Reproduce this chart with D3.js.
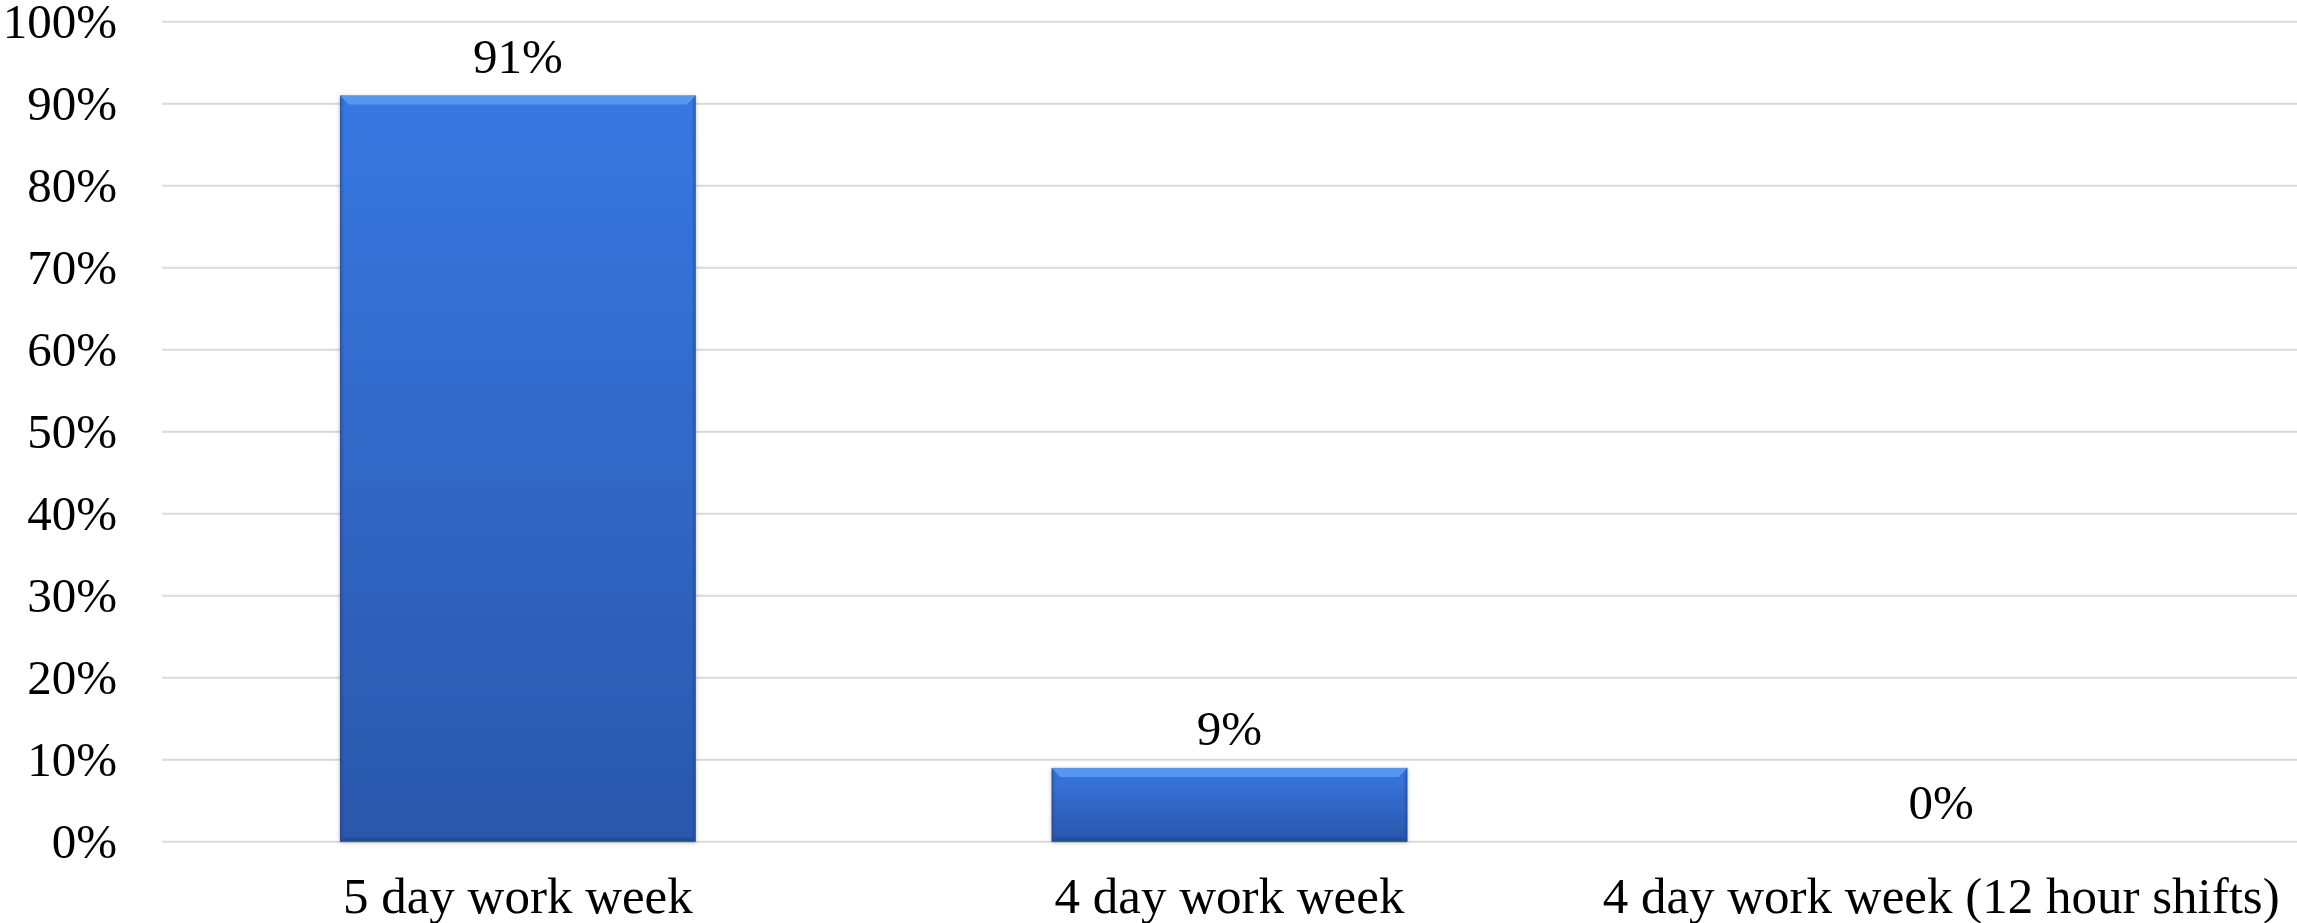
<!DOCTYPE html>
<html>
<head>
<meta charset="utf-8">
<script src="https://cdn.jsdelivr.net/npm/d3@7"></script>
<style>
  html, body { margin: 0; padding: 0; background: #ffffff; }
  svg { display: block; }
  text { font-family: "Liberation Serif", "DejaVu Serif", serif; fill: #000; }
</style>
</head>
<body>
<svg id="chart" width="2297" height="923"></svg>
<script>
// Preferred work schedule — share of responses
const categories = ["5 day work week", "4 day work week", "4 day work week (12 hour shifts)"];
const shares = [0.91, 0.09, 0.00];
const yTicks = [0, 0.1, 0.2, 0.3, 0.4, 0.5, 0.6, 0.7, 0.8, 0.9, 1.0];

const W = 2297, H = 923;
const margin = { left: 162, right: 0, top: 21.7, bottom: 923 - 841.7 };

const svg = d3.select("#chart");

const x = d3.scaleBand()
  .domain(categories)
  .range([margin.left, W - margin.right])
  .paddingInner(0.5)
  .paddingOuter(0.25);

const y = d3.scaleLinear()
  .domain([0, 1])
  .range([H - margin.bottom, margin.top]);

const pct = d3.format(".0%");

// gradients for the bevelled bars
const defs = svg.append("defs");
const body = defs.append("linearGradient").attr("id", "barBody")
  .attr("x1", 0).attr("y1", 0).attr("x2", 0).attr("y2", 1);
body.append("stop").attr("offset", "0%").attr("stop-color", "#3878e2");
body.append("stop").attr("offset", "100%").attr("stop-color", "#2a57ab");

const side = defs.append("linearGradient").attr("id", "barSide")
  .attr("x1", 0).attr("y1", 0).attr("x2", 1).attr("y2", 0);
side.append("stop").attr("offset", "0%").attr("stop-color", "#1d3f86").attr("stop-opacity", 0.55);
side.append("stop").attr("offset", "1.2%").attr("stop-color", "#1d3f86").attr("stop-opacity", 0);
side.append("stop").attr("offset", "98.8%").attr("stop-color", "#1d3f86").attr("stop-opacity", 0);
side.append("stop").attr("offset", "100%").attr("stop-color", "#1d3f86").attr("stop-opacity", 0.55);

const shadow = defs.append("filter").attr("id", "barShadow")
  .attr("x", "-5%").attr("y", "-5%").attr("width", "110%").attr("height", "110%");
shadow.append("feDropShadow").attr("dx", 0).attr("dy", 1).attr("stdDeviation", 2)
  .attr("flood-color", "#000").attr("flood-opacity", 0.25);

// horizontal gridlines
svg.append("g")
  .selectAll("line")
  .data(yTicks)
  .join("line")
  .attr("x1", margin.left)
  .attr("x2", W)
  .attr("y1", d => y(d))
  .attr("y2", d => y(d))
  .attr("stroke", "#d9d9d9")
  .attr("stroke-width", 2);

// y axis labels
const yAxis = d3.axisLeft(y).tickValues(yTicks).tickFormat(pct).tickSize(0).tickPadding(0);
const yg = svg.append("g")
  .attr("transform", `translate(117,0)`)
  .call(yAxis);
yg.select(".domain").remove();
yg.selectAll("text")
  .attr("font-family", "Liberation Serif, DejaVu Serif, serif")
  .attr("font-size", 49)
  .attr("fill", "#000")
  .attr("dy", "0.32em");

// bars
const bars = svg.append("g")
  .selectAll("g")
  .data(categories.map((c, i) => ({ c, v: shares[i] })))
  .join("g")
  .filter(d => d.v > 0);

bars.append("rect")
  .attr("x", d => x(d.c))
  .attr("y", d => y(d.v))
  .attr("width", x.bandwidth())
  .attr("height", d => y(0) - y(d.v))
  .attr("fill", "url(#barBody)")
  .attr("filter", "url(#barShadow)");

bars.append("rect")
  .attr("x", d => x(d.c))
  .attr("y", d => y(d.v))
  .attr("width", x.bandwidth())
  .attr("height", d => y(0) - y(d.v))
  .attr("fill", "url(#barSide)");

// bevelled top edge
const bev = 9;
bars.append("path")
  .attr("d", d => {
    const x0 = x(d.c), x1 = x0 + x.bandwidth(), t = y(d.v);
    return `M${x0},${t}L${x1},${t}L${x1 - bev},${t + bev}L${x0 + bev},${t + bev}Z`;
  })
  .attr("fill", "#5b9af0")
  .attr("opacity", 0.9);

// darker bottom edge
bars.append("path")
  .attr("d", d => {
    const x0 = x(d.c), x1 = x0 + x.bandwidth(), b = y(0);
    return `M${x0},${b}L${x1},${b}L${x1 - 4},${b - 4}L${x0 + 4},${b - 4}Z`;
  })
  .attr("fill", "#1f4590")
  .attr("opacity", 0.6);

// value labels
svg.append("g")
  .selectAll("text")
  .data(categories.map((c, i) => ({ c, v: shares[i] })))
  .join("text")
  .attr("x", d => x(d.c) + x.bandwidth() / 2)
  .attr("y", d => y(d.v) - 23)
  .attr("text-anchor", "middle")
  .attr("font-size", 49)
  .text(d => pct(d.v));

// category labels
const xAxis = d3.axisBottom(x).tickSize(0).tickPadding(0);
const xg = svg.append("g")
  .attr("transform", `translate(0,${y(0)})`)
  .call(xAxis);
xg.select(".domain").remove();
xg.selectAll("text")
  .attr("font-family", "Liberation Serif, DejaVu Serif, serif")
  .attr("font-size", 51)
  .attr("fill", "#000")
  .attr("dy", null)
  .attr("y", 71);
</script>
</body>
</html>
